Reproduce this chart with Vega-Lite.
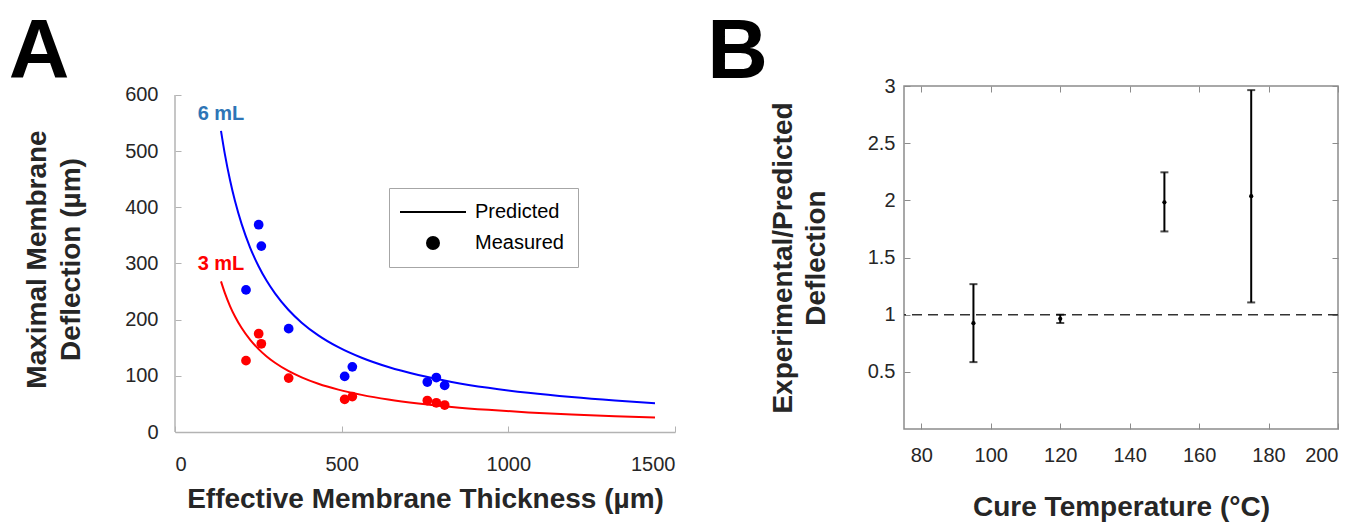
{
  "$schema": "https://vega.github.io/schema/vega-lite/v6.json",
  "background": "white",
  "padding": {"left": 8, "top": 10, "right": 0, "bottom": 0},
  "spacing": 30,
  "datasets": {
    "curves": [
      {"t": 138, "d": 536.2, "vol": "6 mL"}, {"t": 150, "d": 493.3, "vol": "6 mL"}, {"t": 165, "d": 448.5, "vol": "6 mL"},
      {"t": 180, "d": 411.1, "vol": "6 mL"}, {"t": 200, "d": 370.0, "vol": "6 mL"}, {"t": 225, "d": 328.9, "vol": "6 mL"},
      {"t": 250, "d": 296.0, "vol": "6 mL"}, {"t": 275, "d": 269.1, "vol": "6 mL"}, {"t": 300, "d": 246.7, "vol": "6 mL"},
      {"t": 340, "d": 217.6, "vol": "6 mL"}, {"t": 380, "d": 194.7, "vol": "6 mL"}, {"t": 430, "d": 172.1, "vol": "6 mL"},
      {"t": 490, "d": 151.0, "vol": "6 mL"}, {"t": 560, "d": 132.1, "vol": "6 mL"}, {"t": 640, "d": 115.6, "vol": "6 mL"},
      {"t": 730, "d": 101.4, "vol": "6 mL"}, {"t": 830, "d": 89.2, "vol": "6 mL"}, {"t": 940, "d": 78.7, "vol": "6 mL"},
      {"t": 1060, "d": 69.8, "vol": "6 mL"}, {"t": 1190, "d": 62.2, "vol": "6 mL"}, {"t": 1320, "d": 56.1, "vol": "6 mL"},
      {"t": 1440, "d": 51.4, "vol": "6 mL"},
      {"t": 138, "d": 268.1, "vol": "3 mL"}, {"t": 150, "d": 246.7, "vol": "3 mL"}, {"t": 165, "d": 224.2, "vol": "3 mL"},
      {"t": 180, "d": 205.6, "vol": "3 mL"}, {"t": 200, "d": 185.0, "vol": "3 mL"}, {"t": 225, "d": 164.4, "vol": "3 mL"},
      {"t": 250, "d": 148.0, "vol": "3 mL"}, {"t": 275, "d": 134.5, "vol": "3 mL"}, {"t": 300, "d": 123.3, "vol": "3 mL"},
      {"t": 340, "d": 108.8, "vol": "3 mL"}, {"t": 380, "d": 97.4, "vol": "3 mL"}, {"t": 430, "d": 86.0, "vol": "3 mL"},
      {"t": 490, "d": 75.5, "vol": "3 mL"}, {"t": 560, "d": 66.1, "vol": "3 mL"}, {"t": 640, "d": 57.8, "vol": "3 mL"},
      {"t": 730, "d": 50.7, "vol": "3 mL"}, {"t": 830, "d": 44.6, "vol": "3 mL"}, {"t": 940, "d": 39.4, "vol": "3 mL"},
      {"t": 1060, "d": 34.9, "vol": "3 mL"}, {"t": 1190, "d": 31.1, "vol": "3 mL"}, {"t": 1320, "d": 28.0, "vol": "3 mL"},
      {"t": 1440, "d": 25.7, "vol": "3 mL"}
    ],
    "points": [
      {"t": 251, "d": 369, "vol": "6 mL"}, {"t": 259, "d": 331, "vol": "6 mL"}, {"t": 213, "d": 253, "vol": "6 mL"},
      {"t": 341, "d": 184, "vol": "6 mL"}, {"t": 509, "d": 99, "vol": "6 mL"}, {"t": 532, "d": 116, "vol": "6 mL"},
      {"t": 757, "d": 89, "vol": "6 mL"}, {"t": 784, "d": 97, "vol": "6 mL"}, {"t": 809, "d": 83, "vol": "6 mL"},
      {"t": 251, "d": 175, "vol": "3 mL"}, {"t": 259, "d": 157, "vol": "3 mL"}, {"t": 213, "d": 127, "vol": "3 mL"},
      {"t": 341, "d": 96, "vol": "3 mL"}, {"t": 509, "d": 58, "vol": "3 mL"}, {"t": 532, "d": 63, "vol": "3 mL"},
      {"t": 757, "d": 56, "vol": "3 mL"}, {"t": 784, "d": 52, "vol": "3 mL"}, {"t": 809, "d": 48, "vol": "3 mL"}
    ],
    "ratios": [
      {"temp": 95, "ratio": 0.925, "lo": 0.585, "hi": 1.267},
      {"temp": 120, "ratio": 0.964, "lo": 0.927, "hi": 1.0},
      {"temp": 150, "ratio": 1.983, "lo": 1.728, "hi": 2.245},
      {"temp": 175, "ratio": 2.036, "lo": 1.107, "hi": 2.964}
    ]
  },
  "hconcat": [
    {
      "width": 500,
      "height": 346,
      "view": {"stroke": null},
      "title": {"text": "A", "anchor": "start", "frame": "bounds", "fontSize": 84, "fontWeight": "bold", "font": "Liberation Sans", "color": "black", "dx": -15, "offset": -11},
      "layer": [
        {
          "data": {"values": [{}]},
          "mark": {"type": "rule", "color": "#b3b3b3", "strokeWidth": 1.5},
          "encoding": {
            "x": {"datum": 0, "type": "quantitative"},
            "y": {"datum": 0, "type": "quantitative"},
            "y2": {"datum": 600}
          }
        },
        {
          "data": {"name": "curves"},
          "mark": {"type": "line", "strokeWidth": 2, "interpolate": "monotone"},
          "encoding": {
            "x": {"field": "t", "type": "quantitative", "scale": {"domain": [0, 1500], "nice": false},
              "axis": {"values": [0, 500, 1000, 1500], "format": "d", "title": "Effective Membrane Thickness (µm)", "domainColor": "#b3b3b3", "domainWidth": 1.5, "tickColor": "#b3b3b3", "tickWidth": 1, "tickSize": -6, "labelPadding": 28, "titlePadding": 11}},
            "y": {"field": "d", "type": "quantitative", "scale": {"domain": [0, 616], "nice": false},
              "axis": {"values": [0, 100, 200, 300, 400, 500, 600], "format": "d", "title": ["Maximal Membrane", "Deflection (µm)"], "domain": false, "tickColor": "#b3b3b3", "tickWidth": 1, "tickSize": -6, "labelPadding": 23, "titlePadding": 39, "titleLineHeight": 34}},
            "color": {"field": "vol", "type": "nominal", "scale": {"domain": ["6 mL", "3 mL"], "range": ["#0000ff", "#ff0000"]}, "legend": null}
          }
        },
        {
          "data": {"name": "points"},
          "mark": {"type": "circle", "size": 95, "opacity": 1},
          "encoding": {
            "x": {"field": "t", "type": "quantitative"},
            "y": {"field": "d", "type": "quantitative"},
            "color": {"field": "vol", "type": "nominal", "legend": null}
          }
        },
        {
          "data": {"name": "curves"},
          "transform": [{"filter": "datum.t === 138"}],
          "mark": {"type": "text", "dy": -17, "fontSize": 20, "fontWeight": "bold", "font": "Liberation Sans", "align": "center", "baseline": "middle"},
          "encoding": {
            "x": {"field": "t", "type": "quantitative"},
            "y": {"field": "d", "type": "quantitative"},
            "text": {"field": "vol"},
            "fill": {"field": "vol", "type": "nominal", "scale": {"domain": ["6 mL", "3 mL"], "range": ["#2e75b6", "#ff0000"]}, "legend": null}
          }
        },
        {
          "data": {"values": []},
          "mark": {"type": "point", "filled": true, "color": "black", "opacity": 1},
          "encoding": {
            "shape": {"field": "k", "type": "nominal",
              "scale": {"domain": ["Predicted", "Measured"], "range": ["M-4.714,-0.143H4.714V0.143H-4.714Z", "circle"]},
              "legend": {"title": null, "orient": "none", "legendX": 214, "legendY": 102, "strokeColor": "#a6a6a6", "fillColor": "white", "padding": 14,
                "symbolSize": 196, "symbolStrokeWidth": 0, "symbolOffset": 20, "labelOffset": 32, "labelFontSize": 20, "labelFont": "Liberation Sans", "labelColor": "black", "rowPadding": 11,
                "symbolFillColor": "black", "symbolOpacity": 1}
            }
          }
        }
      ]
    },
    {
      "width": 434,
      "height": 343,
      "view": {"stroke": "#8c8c8c", "strokeWidth": 1.5},
      "title": {"text": "B", "anchor": "start", "frame": "bounds", "fontSize": 84, "fontWeight": "bold", "font": "Liberation Sans", "color": "black", "dx": -62, "offset": -20},
      "data": {"name": "ratios"},
      "layer": [
        {
          "data": {"values": [{}]},
          "mark": {"type": "rule", "strokeDash": [10, 6], "strokeWidth": 1.5, "color": "#333333"},
          "encoding": {"y": {"datum": 1, "type": "quantitative", "axis": null}}
        },
        {
          "mark": {"type": "rule", "strokeWidth": 2, "color": "black"},
          "encoding": {
            "x": {"field": "temp", "type": "quantitative", "scale": {"domain": [75, 200], "nice": false},
              "axis": {"orient": "top", "labels": false, "title": null, "domain": false, "values": [80, 100, 120, 140, 160, 180, 200], "tickColor": "#8c8c8c", "tickSize": -6}},
            "y": {"field": "lo", "type": "quantitative", "scale": {"domain": [0.5, 3], "nice": false},
              "axis": {"orient": "right", "labels": false, "title": null, "domain": false, "values": [0.5, 1, 1.5, 2, 2.5, 3], "tickColor": "#8c8c8c", "tickSize": -6}},
            "y2": {"field": "hi"}
          }
        },
        {
          "mark": {"type": "tick", "orient": "horizontal", "size": 8, "thickness": 2, "color": "black"},
          "encoding": {
            "x": {"field": "temp", "type": "quantitative", "axis": null},
            "y": {"field": "lo", "type": "quantitative", "axis": null}
          }
        },
        {
          "mark": {"type": "tick", "orient": "horizontal", "size": 8, "thickness": 2, "color": "black"},
          "encoding": {
            "x": {"field": "temp", "type": "quantitative", "axis": null},
            "y": {"field": "hi", "type": "quantitative", "axis": null}
          }
        },
        {
          "mark": {"type": "point", "filled": true, "size": 18, "color": "black", "opacity": 1},
          "encoding": {
            "x": {"field": "temp", "type": "quantitative",
              "axis": {"values": [80, 100, 120, 140, 160, 180, 200], "title": "Cure Temperature (°C)", "domain": false, "tickColor": "#8c8c8c", "tickSize": -6, "labelPadding": 22, "titlePadding": 28}},
            "y": {"field": "ratio", "type": "quantitative",
              "axis": {"values": [0.5, 1, 1.5, 2, 2.5, 3], "format": "~g", "title": ["Experimental/Predicted", "Deflection"], "domain": false, "tickColor": "#8c8c8c", "tickSize": -6, "labelPadding": 15, "titlePadding": 37, "titleLineHeight": 33}}
          }
        }
      ],
      "resolve": {"axis": {"x": "independent", "y": "independent"}}
    }
  ],
  "config": {
    "font": "Liberation Sans",
    "axis": {"labelFont": "Liberation Sans", "labelFontSize": 20, "labelColor": "#262626", "titleFont": "Liberation Sans", "titleFontSize": 28, "titleFontWeight": "bold", "titleColor": "#262626", "grid": false}
  }
}
